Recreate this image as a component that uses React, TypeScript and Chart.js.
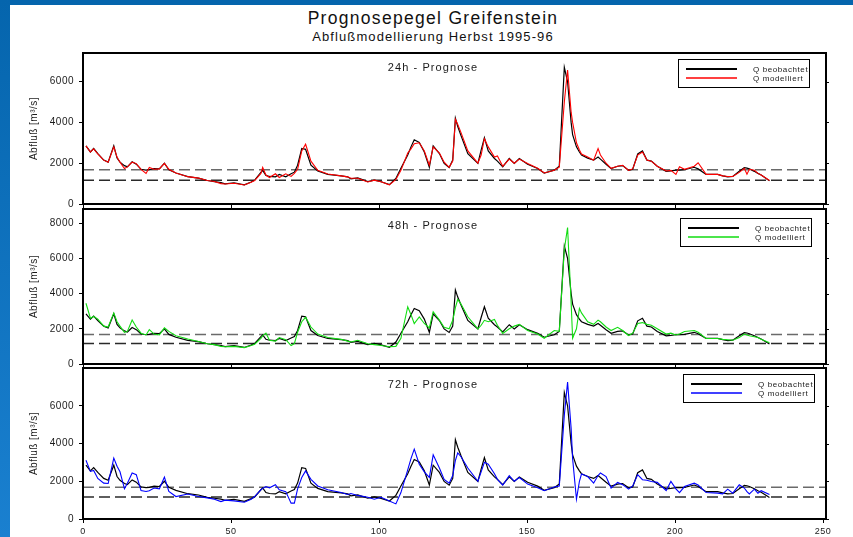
import React, { useEffect, useRef } from "react";
import { Chart, registerables } from "chart.js";

Chart.register(...registerables);

const FONT = '"Liberation Sans", Arial, Helvetica, sans-serif';

// ---- data (day index, discharge in m³/s) ----
const days = [
  1, 2.5, 3.6, 5, 7, 8.5, 10.4, 11.5, 12.5,
  14, 15, 16.6, 18, 19.6, 21.3, 22.4, 24, 25.8, 27.5,
  29, 31.4, 35.4, 39, 42, 44.4, 46.6, 48, 51, 54.5,
  56.8, 58, 60.1, 60.7, 61.8, 63, 65, 66.3, 68.5, 70.3,
  71.4, 72.5, 73.9, 75.2, 77, 79.3, 82.7, 87.2, 89.4, 90.5,
  92.8, 96.2, 98.4, 100.7, 103.5, 105.7, 107.4, 109.7, 110.8, 111.9,
  113.6, 115.3, 117, 118.3, 120.4, 122, 123.7, 124.9, 125.8, 126.6,
  127.7, 130, 133.4, 134.5, 135.6, 136.9, 139, 140, 141.8, 144,
  145.7, 147.4, 150.2, 153.6, 155.8, 159.2, 160.9, 162.6, 163.7, 164.9,
  165.4, 166.7, 167.7, 168.4, 170.5, 172.5, 174, 174.8, 176.7, 178.4,
  180.6, 182.3, 184.3, 185.7, 187.4, 189, 190.5, 192, 194, 197,
  198.6, 200.3, 201.5, 203.2, 206.5, 207.8, 210.5, 214.4, 216.1, 217.8,
  219.5, 221.7, 223.4, 224.3, 225.1, 226.8, 228, 229.1, 231.9,
];

const observed = [
  2850, 2550, 2720, 2470, 2150, 2050, 2850, 2250, 2050,
  1880, 1820, 2070, 1950, 1700, 1660, 1680, 1740, 1720, 2000,
  1680, 1520, 1340, 1270, 1150, 1100, 1050, 990, 1040, 940,
  1080, 1170, 1550, 1650, 1400, 1350, 1330, 1450, 1330, 1480,
  1560, 1900, 2720, 2680, 1900, 1620, 1450, 1380, 1330, 1230,
  1280, 1100, 1170, 1090, 950, 1250, 1750, 2400, 2800, 3150,
  3020, 2550, 1800, 2850, 2470, 1990, 1790, 2150, 4200, 3800,
  3350, 2470, 1990, 2640, 3250, 2600, 2230, 2100, 1820, 2230,
  1990, 2230, 1950, 1740, 1520, 1660, 1850, 6700, 6000, 4000,
  3400, 2800, 2550, 2400, 2250, 2150, 2300, 2200, 1950, 1740,
  1850, 1880, 1650, 1700, 2450, 2600, 2150, 2100, 1850, 1600,
  1620, 1660, 1660, 1680, 1800, 1720, 1450, 1450, 1380, 1330,
  1350, 1600, 1780, 1760, 1720, 1600, 1500, 1420, 1140,
];

const model24 = [
  2850, 2550, 2700, 2450, 2150, 2050, 2800, 2300, 2050,
  1740, 1820, 2050, 1980, 1700, 1500, 1790, 1700, 1720, 1990,
  1700, 1520, 1340, 1270, 1150, 1100, 1000, 980, 1020, 930,
  1070, 1150, 1500, 1790, 1420, 1300, 1480, 1300, 1480, 1350,
  1500, 1700, 2600, 2930, 2100, 1650, 1470, 1380, 1330, 1260,
  1260, 1080, 1170, 1090, 940, 1200, 1650, 2500, 2700, 2950,
  3000, 2600, 1900, 2800, 2500, 2050, 1800, 2100, 4150, 3900,
  3500, 2600, 2000, 2400, 3200, 2800, 2300, 2350, 1850, 2200,
  2000, 2200, 1980, 1750, 1520, 1650, 1800, 5000, 6570, 4500,
  4000, 3000, 2650, 2450, 2300, 2150, 2720, 2400, 2000, 1750,
  1850, 1900, 1650, 1720, 2400, 2550, 2150, 2100, 1850, 1620,
  1650, 1450, 1820, 1700, 1850, 2020, 1450, 1450, 1380, 1350,
  1350, 1550, 1750, 1460, 1700, 1650, 1500, 1420, 1150,
];

const model48 = [
  3450, 2600, 2700, 2550, 2150, 2100, 2900, 2400, 2150,
  1800, 1850, 2500, 2100, 1750, 1650, 1950, 1700, 1650, 2050,
  1850, 1600, 1420, 1280, 1150, 1100, 1000, 980, 1000, 930,
  1050, 1120, 1450, 1600, 1750, 1350, 1300, 1500, 1380, 1050,
  1150, 1800, 2400, 2650, 2100, 1700, 1500, 1400, 1300, 1250,
  1350, 1150, 1100, 1050, 980, 1000, 1460, 3250, 2800, 2300,
  2680, 2300, 2050, 2970, 2490, 2080, 2000, 2480, 3200, 3670,
  3400, 2680, 1990, 2200, 2480, 2400, 2530, 2200, 1740, 2000,
  2150, 2250, 1900, 1700, 1460, 1900, 1850, 6500, 7750, 3500,
  1460, 2000, 3160, 2900, 2400, 2250, 2490, 2400, 2100, 1900,
  2080, 1900, 1620, 1750, 2300, 2350, 2250, 2200, 2000, 1700,
  1750, 1650, 1700, 1850, 1900, 1800, 1450, 1450, 1400, 1380,
  1350, 1500, 1700, 1650, 1600, 1550, 1500, 1400, 1200,
];

const model72 = [
  3110, 2520, 2570, 2150, 1900, 1880, 3230, 2800, 2500,
  1600, 1900, 2440, 2350, 1510, 1460, 1500, 1640, 1600, 2220,
  1460, 1190, 1320, 1190, 1120, 1050, 920, 1000, 960, 890,
  1050, 1190, 1550, 1620, 1720, 1650, 1820, 1550, 1450, 840,
  840, 1600, 2200, 2550, 2100, 1750, 1550, 1400, 1300, 1350,
  1250, 1150, 1050, 1150, 950, 800, 1400, 2600, 3200, 3700,
  2900, 2500, 2200, 3400, 2700, 2100, 1900, 2300, 3100, 3500,
  3300, 2700, 2000, 2500, 3000, 2900, 2400, 2100, 1800, 2300,
  2000, 2200, 1850, 1650, 1500, 1700, 1750, 5500, 7250, 4800,
  3200, 1050, 2000, 2380, 2250, 1900, 2300, 2440, 2250, 1640,
  1940, 1820, 1580, 1750, 2350, 2080, 2050, 1990, 1940, 1510,
  1990, 1600, 1400, 1720, 1900, 1800, 1400, 1370, 1330, 1580,
  1370, 1810, 1640, 1450, 1330, 1580, 1370, 1500, 1300,
];

const thresholdDays = [0, 251];
const upperThreshold = [1680, 1680];
const lowerThreshold = [1170, 1170];

const panelTitles = ["24h - Prognose", "48h - Prognose", "72h - Prognose"];
const seriesLabels = ["Q beobachtet", "Q modelliert"];
const yAxisTitle = "Abfluß [m³/s]";
const yMaxima = [7400, 8800, 8000];
const yTickValues = [
  [0, 2000, 4000, 6000],
  [0, 2000, 4000, 6000, 8000],
  [0, 2000, 4000, 6000],
];
const xTickValues = [0, 50, 100, 150, 200, 250];
const xMax = 251;

// ---- layout / style per panel ----
const panels = [
  { model: model24, color: "#ff0000", padTop: 53, padBottom: 329, xLabels: false, titleY: 71, legendLeft: 678, legendTop: 59 },
  { model: model48, color: "#11dd11", padTop: 209, padBottom: 169, xLabels: false, titleY: 229, legendLeft: 680, legendTop: 218 },
  { model: model72, color: "#0000ff", padTop: 368, padBottom: 0, xLabels: true, titleY: 388, legendLeft: 683, legendTop: 374 },
];

const pts = (xs: number[], ys: number[]) => xs.map((x, i) => ({ x, y: ys[i] }));

const decorPlugin = {
  id: "decor",
  beforeDraw(chart: any) {
    (chart.ctx as any).letterSpacing = "0.5px";
  },
  afterDatasetsDraw(chart: any, _args: any, opts: any) {
    const { ctx, chartArea: ca } = chart;
    ctx.save();
    // frame
    ctx.strokeStyle = "#000";
    ctx.lineWidth = 2;
    ctx.strokeRect(ca.left, ca.top, ca.right - ca.left, ca.bottom - ca.top);
    // mirrored ticks on the right
    const ys = chart.scales.y;
    ctx.lineWidth = 1;
    ys.ticks.forEach((t: any) => {
      const py = Math.round(ys.getPixelForValue(t.value)) + 0.5;
      ctx.beginPath();
      ctx.moveTo(ca.right, py);
      ctx.lineTo(ca.right + 3, py);
      ctx.stroke();
    });
    // panel title
    ctx.font = `11px ${FONT}`;
    (ctx as any).letterSpacing = "1.1px";
    ctx.fillStyle = "#1a1a1a";
    ctx.textAlign = "center";
    ctx.textBaseline = "alphabetic";
    ctx.fillText(opts.title, 433, opts.titleY);
    // legend
    const L = opts.legendLeft, T = opts.legendTop, W = 131, H = 28;
    ctx.fillStyle = "#fff";
    ctx.fillRect(L, T, W, H);
    ctx.strokeStyle = "#000";
    ctx.lineWidth = 1;
    ctx.strokeRect(L + 0.5, T + 0.5, W, H);
    chart.data.datasets.slice(0, 2).forEach((d: any, i: number) => {
      const y = T + 10 + i * 9;
      ctx.strokeStyle = d.borderColor;
      ctx.lineWidth = i === 0 ? 2 : 1.3;
      ctx.beginPath();
      ctx.moveTo(L + 8, y);
      ctx.lineTo(L + 59, y);
      ctx.stroke();
      ctx.fillStyle = "#1a1a1a";
      ctx.font = `8px ${FONT}`;
      (ctx as any).letterSpacing = "0.6px";
      ctx.textAlign = "left";
      ctx.textBaseline = "middle";
      ctx.fillText(d.label, L + 75, y + 0.5);
    });
    ctx.restore();
  },
};

function makeConfig(p: any, idx: number): any {
  return {
    type: "line",
    data: {
      datasets: [
        { label: seriesLabels[0], data: pts(days, observed), borderColor: "#000000", borderWidth: 1.2, pointRadius: 0, tension: 0, order: 2 },
        { label: seriesLabels[1], data: pts(days, p.model), borderColor: p.color, borderWidth: 1.1, pointRadius: 0, tension: 0, order: 1 },
        { label: "upper", data: pts(thresholdDays, upperThreshold), borderColor: "#6a6a6a", borderWidth: 1.5, borderDash: [11, 5], pointRadius: 0, order: 3 },
        { label: "lower", data: pts(thresholdDays, lowerThreshold), borderColor: "#2a2a2a", borderWidth: 1.5, borderDash: [11, 5], pointRadius: 0, order: 3 },
      ],
    },
    options: {
      animation: false,
      responsive: false,
      events: [],
      layout: { padding: { top: p.padTop, bottom: p.padBottom, left: 0, right: 27 } },
      plugins: {
        legend: { display: false },
        tooltip: { enabled: false },
        decor: { title: panelTitles[idx], titleY: p.titleY, legendLeft: p.legendLeft, legendTop: p.legendTop },
      },
      scales: {
        x: {
          type: "linear",
          min: 0,
          max: xMax,
          afterBuildTicks: (s: any) => {
            s.ticks = xTickValues.map((v) => ({ value: v }));
          },
          ticks: {
            display: p.xLabels,
            padding: 3,
            color: "#1a1a1a",
            font: { family: FONT, size: 9 },
            maxRotation: 0,
            autoSkip: false,
            callback: (v: any) => String(v),
          },
          grid: { display: true, drawOnChartArea: false, drawTicks: true, tickLength: 4, color: "#000" },
          border: { display: false },
          afterFit: (s: any) => {
            s.height = p.xLabels ? 18 : 4;
          },
        },
        y: {
          min: 0,
          max: yMaxima[idx],
          afterBuildTicks: (s: any) => {
            s.ticks = yTickValues[idx].map((v) => ({ value: v }));
          },
          ticks: {
            padding: 5,
            autoSkip: false,
            color: "#1a1a1a",
            font: { family: FONT, size: 10 },
            callback: (v: any) => String(v),
          },
          grid: { display: true, drawOnChartArea: false, drawTicks: true, tickLength: 4, color: "#000" },
          border: { display: false },
          title: {
            display: true,
            text: yAxisTitle,
            color: "#1a1a1a",
            font: { family: FONT, size: 10 },
            padding: { top: 28, bottom: 0 },
          },
          afterFit: (s: any) => {
            s.width = 83;
          },
        },
      },
    },
    plugins: [decorPlugin],
  };
}

export default function App() {
  const refs = useRef<(HTMLCanvasElement | null)[]>([]);

  useEffect(() => {
    const charts = panels.map((p, i) => new Chart(refs.current[i] as HTMLCanvasElement, makeConfig(p, i)));
    return () => charts.forEach((c) => c.destroy());
  }, []);

  return (
    <div
      style={{
        position: "fixed",
        left: 0,
        top: 0,
        width: 853,
        height: 537,
        background: "#ffffff",
        overflow: "hidden",
        fontFamily: FONT,
      }}
    >
      <div style={{ position: "absolute", left: 0, top: 0, width: 853, height: 5, background: "#0565ad" }} />
      <div
        style={{
          position: "absolute",
          left: 0,
          top: 0,
          width: 10,
          height: 537,
          background: "linear-gradient(#0565ad, #1a80d0)",
        }}
      />
      <div
        style={{
          position: "absolute",
          left: 133,
          width: 600,
          top: 8,
          textAlign: "center",
          fontSize: 17.5,
          lineHeight: "20px",
          letterSpacing: "1.3px",
          color: "#111",
          whiteSpace: "nowrap",
        }}
      >
        Prognosepegel Greifenstein
      </div>
      <div
        style={{
          position: "absolute",
          left: 133,
          width: 600,
          top: 28.5,
          textAlign: "center",
          fontSize: 13,
          lineHeight: "16px",
          letterSpacing: "1.1px",
          color: "#111",
          whiteSpace: "nowrap",
        }}
      >
        Abflußmodellierung Herbst 1995-96
      </div>
      {panels.map((_, i) => (
        <canvas
          key={i}
          ref={(el) => {
            refs.current[i] = el;
          }}
          width={853}
          height={537}
          style={{ position: "absolute", left: 0, top: 0 }}
        />
      ))}
    </div>
  );
}
